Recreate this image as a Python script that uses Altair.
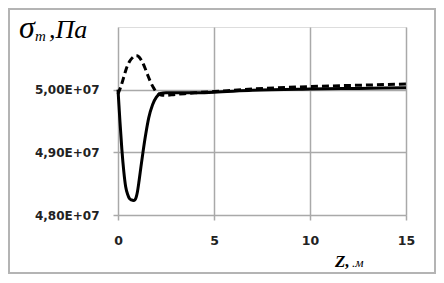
import altair as alt
import pandas as pd

# data
z_solid = [0.0, 0.05, 0.1, 0.2, 0.3, 0.4, 0.5, 0.6, 0.7, 0.8, 0.9, 1.0, 1.1, 1.2, 1.3, 1.45, 1.6, 1.8, 2.0, 2.2, 2.5, 3.0, 4.0, 5.0, 7.0, 10.0, 12.5, 15.0]
s_solid = [5.000e7, 4.975e7, 4.950e7, 4.905e7, 4.870e7, 4.845e7, 4.833e7, 4.826e7, 4.824e7, 4.823e7, 4.825e7, 4.835e7, 4.855e7, 4.878e7, 4.900e7, 4.930e7, 4.955e7, 4.976e7, 4.988e7, 4.994e7, 4.995e7, 4.995e7, 4.995e7, 4.996e7, 4.999e7, 5.001e7, 5.002e7, 5.003e7]

z_dashed = [0.0, 0.15, 0.3, 0.45, 0.6, 0.75, 0.9, 1.0, 1.1, 1.25, 1.4, 1.55, 1.7, 1.85, 2.0, 2.2, 2.5, 2.8, 3.2, 4.0, 5.0, 7.0, 10.0, 12.5, 15.0]
s_dashed = [4.993e7, 5.005e7, 5.020e7, 5.035e7, 5.045e7, 5.051e7, 5.054e7, 5.054e7, 5.052e7, 5.045e7, 5.035e7, 5.023e7, 5.012e7, 5.003e7, 4.996e7, 4.992e7, 4.991e7, 4.992e7, 4.993e7, 4.995e7, 4.997e7, 5.001e7, 5.005e7, 5.007e7, 5.009e7]

x_ticks = [0, 5, 10, 15]
y_ticks = [4.8e7, 4.9e7, 5.0e7]

df_s = pd.DataFrame({"z": z_solid, "s": s_solid})
df_d = pd.DataFrame({"z": z_dashed, "s": s_dashed})
one = pd.DataFrame({"a": [0]})

W, H = 288, 188
GRID = "#a9a9a9"
LBL_FONT = "DejaVu Sans"

xs = alt.Scale(domain=[0, 15], nice=False, zero=False)
ys = alt.Scale(domain=[4.8e7, 5.1e7], nice=False, zero=False)

x_axis = alt.Axis(values=x_ticks, title=None, grid=True, gridColor=GRID, gridWidth=1.5,
                  domain=False, tickColor=GRID, tickSize=5, tickWidth=1.5,
                  labelFont=LBL_FONT, labelFontSize=12.5, labelFontWeight="bold",
                  labelColor="#222222", labelPadding=14, labelFlush=False)
y_axis = alt.Axis(values=y_ticks, title=None, grid=True, gridColor=GRID, gridWidth=1.5,
                  domain=False, tickColor=GRID, tickSize=5, tickWidth=1.5,
                  labelFont=LBL_FONT, labelFontSize=12, labelFontWeight="bold",
                  labelColor="#222222", labelPadding=14, labelFlush=False,
                  labelExpr="replace(format(datum.value/1e7, '.2f'), '.', ',') + 'E+07'")

frame = alt.Chart(one).mark_rect(fill=None, stroke="#b4b4b4", strokeWidth=2).encode(
    x=alt.value(-109), x2=alt.value(317), y=alt.value(-18), y2=alt.value(246))

solid = alt.Chart(df_s).mark_line(color="black", strokeWidth=3, interpolate="monotone").encode(
    x=alt.X("z:Q", scale=xs, axis=x_axis),
    y=alt.Y("s:Q", scale=ys, axis=y_axis))

dashed = alt.Chart(df_d).mark_line(color="black", strokeWidth=3, strokeDash=[7, 4],
                                   interpolate="monotone").encode(
    x=alt.X("z:Q", scale=xs), y=alt.Y("s:Q", scale=ys))

def txt(text, x, y, size, weight="normal", style="italic", font="Liberation Serif"):
    return alt.Chart(one).mark_text(text=text, align="left", baseline="alphabetic",
                                    font=font, fontSize=size, fontStyle=style,
                                    fontWeight=weight, color="black").encode(
        x=alt.value(x), y=alt.value(y))

t_sigma = txt("σ", -99, 11, 32)
t_m = txt("m", -83, 14, 15)
t_pa = txt(",Па", -69, 11, 26)
t_z = txt("Z,", 217, 240, 17, weight="bold")
t_m2 = txt(".м", 234, 240, 13)

chart = alt.layer(frame, solid, dashed, t_sigma, t_m, t_pa, t_z, t_m2).properties(
    width=W, height=H,
    autosize=alt.AutoSizeParams(type="none"),
    padding={"left": 110, "top": 19, "right": 30, "bottom": 60},
).configure_view(stroke=GRID, strokeWidth=1.5).configure(background="white")

chart.save("out.html", embed_options={"renderer": "svg", "actions": False})
